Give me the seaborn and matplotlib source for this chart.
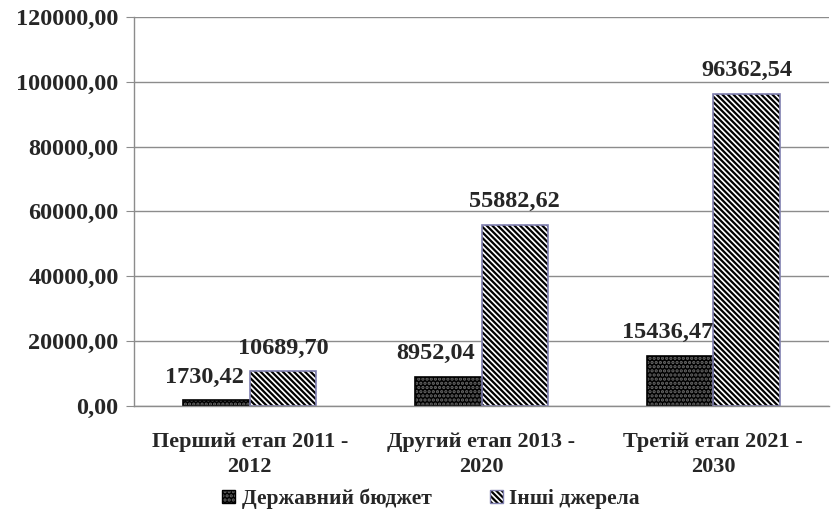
import pandas as pd
import matplotlib.pyplot as plt
import seaborn as sns
from matplotlib.patches import Rectangle, Patch
from matplotlib.legend_handler import HandlerTuple
from matplotlib.ticker import FuncFormatter

# data
stages = ["Перший етап 2011 -\n2012", "Другий етап 2013 -\n2020", "Третій етап 2021 -\n2030"]
state_budget = [1730.42, 8952.04, 15436.47]
other_sources = [10689.70, 55882.62, 96362.54]
series = ["Державний бюджет", "Інші джерела"]
y_ticks = [0, 20000, 40000, 60000, 80000, 100000, 120000]

df = pd.DataFrame({
    "stage": stages * 2,
    "value": state_budget + other_sources,
    "source": [series[0]] * len(stages) + [series[1]] * len(stages),
})


def comma_fmt(v, pos=None):
    return f"{v:.2f}".replace(".", ",")


sns.set_style("white")
plt.rcParams["font.family"] = ["Liberation Serif", "DejaVu Serif"]
plt.rcParams["font.weight"] = "bold"
plt.rcParams["hatch.linewidth"] = 1.6

fig = plt.figure(figsize=(8.32, 5.15), dpi=100, facecolor="white")
ax = fig.add_axes([0.161, 0.212, 0.8355, 0.755])

sns.barplot(data=df, x="stage", y="value", hue="source",
            palette=["black", "white"], width=0.575, saturation=1,
            legend=False, ax=ax)

# patterns: dotted dark bars, diagonal hatched bars with a bluish outline
dark_style = dict(face="black", hatch_col="#6a6a6a", hatch="....", outline="black")
hatch_style = dict(face="white", hatch_col="black", hatch="\\\\\\\\\\\\", outline="#8080b0")
for cont, st in zip(ax.containers[:2], [dark_style, hatch_style]):
    for p in cont:
        p.set_facecolor(st["face"])
        p.set_edgecolor(st["hatch_col"])
        p.set_hatch(st["hatch"])
        p.set_linewidth(0)
        ax.add_patch(Rectangle(p.get_xy(), p.get_width(), p.get_height(),
                               fill=False, edgecolor=st["outline"], lw=1.2, zorder=p.get_zorder() + 0.1))

# value labels
dark_labels = ax.bar_label(ax.containers[0], labels=[comma_fmt(v) for v in state_budget],
                           padding=9, fontsize=17.5, fontweight="bold")
for t in dark_labels:
    t.xyann = (-9, 9)
ax.bar_label(ax.containers[1], labels=[comma_fmt(v) for v in other_sources],
             padding=9, fontsize=17.5, fontweight="bold")

ax.set_ylim(0, 120000)
ax.set_xlim(-0.5, 2.5)
ax.set_yticks(y_ticks)
ax.yaxis.set_major_formatter(FuncFormatter(comma_fmt))
ax.yaxis.grid(True, color="#8c8c8c", lw=1)
ax.set_axisbelow(True)
ax.tick_params(axis="y", left=True, length=6, color="#8c8c8c", labelsize=17.5, pad=5)
ax.tick_params(axis="x", length=0, labelsize=16, pad=19)
for lbl in ax.get_xticklabels():
    lbl.set_linespacing(1.35)
ax.set_xlabel("")
ax.set_ylabel("")
sns.despine(ax=ax, top=True, right=True)
for s in ["left", "bottom"]:
    ax.spines[s].set_color("#8c8c8c")
    ax.spines[s].set_linewidth(1)

handles = [
    (Patch(facecolor="black", edgecolor="#6a6a6a", hatch="....", lw=0),
     Patch(fill=False, edgecolor="black", lw=1)),
    (Patch(facecolor="white", edgecolor="black", hatch="\\\\\\\\\\\\", lw=0),
     Patch(fill=False, edgecolor="#8080b0", lw=1)),
]
fig.legend(handles, series, loc="center", bbox_to_anchor=(431 / 832, 1 - 499 / 515),
           ncol=2, frameon=False, fontsize=15.5, handlelength=0.6, handleheight=0.6,
           handletextpad=0.3, columnspacing=2.7,
           handler_map={tuple: HandlerTuple(ndivide=1, pad=0)})

fig.savefig("out.png", dpi=100, facecolor="white")
